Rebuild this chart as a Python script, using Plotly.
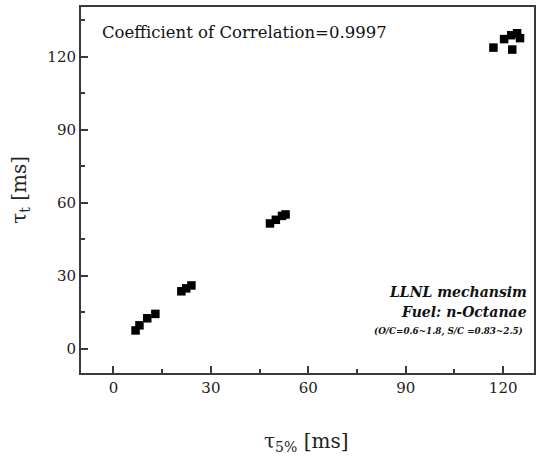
import plotly.graph_objects as go

# Data
tau_5 = [6.8, 8.0, 10.4, 12.9,
         20.9, 22.4, 24.0,
         48.2, 50.0, 51.9, 53.0,
         117.0, 120.3, 122.5, 122.8, 124.3, 125.2]
tau_t = [7.5, 9.6, 12.5, 14.3,
         23.6, 24.8, 26.0,
         51.5, 53.0, 54.6, 55.2,
         123.8, 127.3, 128.9, 123.0, 129.7, 127.7]

x_ticks = [0, 30, 60, 90, 120]
y_ticks = [0, 30, 60, 90, 120]

FONT = "DejaVu Serif"
AXC = "#3a3a3a"

fig = go.Figure()
fig.add_trace(go.Scatter(
    x=tau_5, y=tau_t, mode="markers",
    marker=dict(symbol="square", size=8.5, color="black"),
    showlegend=False,
))

axis_common = dict(
    showgrid=False, zeroline=False,
    showline=True, linecolor=AXC, linewidth=2, mirror=True,
    ticks="inside", ticklen=7, tickwidth=1.5, tickcolor=AXC,
    minor=dict(ticks="inside", ticklen=4, tickwidth=1.5, tickcolor=AXC, dtick=15),
    tickfont=dict(family=FONT, size=15, color="#222"),
)

fig.update_xaxes(range=[-10, 129.5], tickmode="array", tickvals=x_ticks,
                 ticktext=[str(v) for v in x_ticks], **axis_common)
fig.update_yaxes(range=[-10, 140.5], tickmode="array", tickvals=y_ticks,
                 ticktext=[str(v) for v in y_ticks], **axis_common)

ann = [
    dict(text="Coefficient of Correlation=0.9997", x=0.042, y=0.929,
         xanchor="left", yanchor="middle", font=dict(family=FONT, size=16.5, color="#111")),
    dict(text="<b><i>LLNL mechansim</i></b>", x=0.989, y=0.222,
         xanchor="right", yanchor="middle", font=dict(family=FONT, size=14, color="#111")),
    dict(text="<b><i>Fuel: n-Octanae</i></b>", x=0.989, y=0.167,
         xanchor="right", yanchor="middle", font=dict(family=FONT, size=14, color="#111")),
    dict(text="<b><i>(O/C=0.6~1.8, S/C =0.83~2.5)</i></b>", x=0.980, y=0.113,
         xanchor="right", yanchor="middle", font=dict(family=FONT, size=8.8, color="#111")),
    dict(text="τ<sub>5%</sub> [ms]", x=0.497, y=-0.189,
         xanchor="center", yanchor="middle", font=dict(family=FONT, size=20, color="#222")),
    dict(text="τ<sub>t</sub> [ms]", x=-0.135, y=0.5, textangle=-90,
         xanchor="center", yanchor="middle", font=dict(family=FONT, size=20, color="#222")),
]
for a in ann:
    a.update(xref="paper", yref="paper", showarrow=False)

fig.update_layout(
    width=539, height=457,
    margin=dict(l=81, r=3, t=7, b=84),
    paper_bgcolor="white", plot_bgcolor="white",
    font=dict(family=FONT),
    annotations=ann,
)

fig.write_html("out.html")
